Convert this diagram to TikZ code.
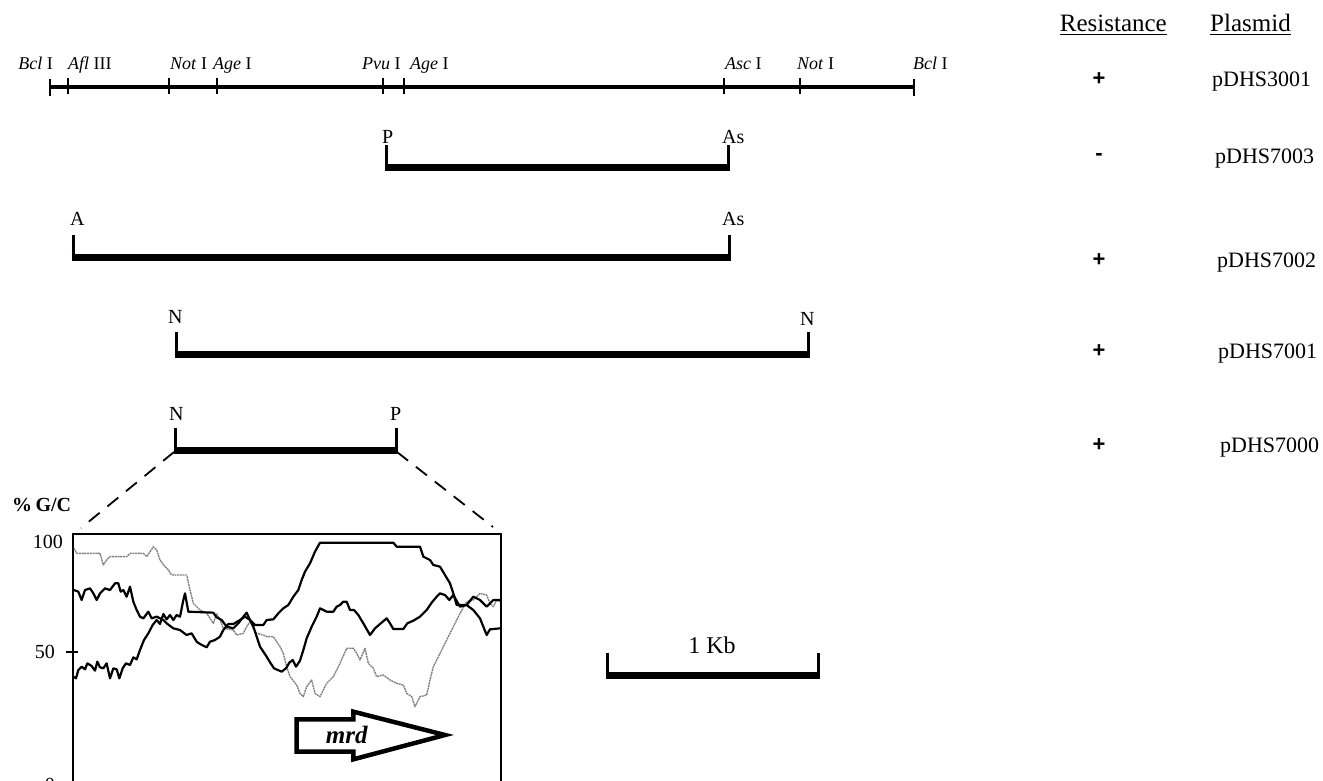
\documentclass[tikz,border=0pt]{standalone}
\usepackage{fontspec}
\setmainfont{Liberation Serif}
\newfontfamily\sansfnt{Liberation Sans}
\begin{document}
\begin{tikzpicture}[x=1pt,y=-1pt,
  toplab/.style={font=\fontsize{18}{20}\selectfont, inner sep=0pt, anchor=base west},
  fraglab/.style={font=\fontsize{20}{22}\selectfont, inner sep=0pt, anchor=base west},
  collab/.style={font=\fontsize{22}{24}\selectfont, inner sep=0pt, anchor=base west},
  headlab/.style={font=\fontsize{25}{27}\selectfont, inner sep=0pt},
  signlab/.style={font=\sansfnt\bfseries\fontsize{22}{24}\selectfont, inner sep=0pt, anchor=center},
  axlab/.style={font=\fontsize{20}{22}\selectfont, inner sep=0pt, anchor=east},
  mapline/.style={line width=4.5pt},
  fragbar/.style={line width=7pt},
  fragtick/.style={line width=3pt},
  maptick/.style={line width=1.6pt},
  gcsolid/.style={line width=2.2pt, line join=round},
  gcgray/.style={line width=1.4pt, black!50, line join=round, dash pattern=on 2pt off 0.7pt},
  zoomdash/.style={line width=1.8pt, dash pattern=on 14pt off 10pt},
]
\useasboundingbox (0,0) rectangle (1323,780);

% ---------------- restriction map ----------------
\coordinate (m0) at (50,87);
\coordinate (m1) at (68,87);
\coordinate (m2) at (169,87);
\coordinate (m3) at (217,87);
\coordinate (m4) at (383,87);
\coordinate (m5) at (404,87);
\coordinate (m6) at (724,87);
\coordinate (m7) at (800,87);
\coordinate (m8) at (914,87);
\draw[mapline] (m0) -- (m8);
\foreach \c in {m1,m2,m3,m4,m5,m6,m7}{
  \draw[maptick] ([yshift=9pt]\c) -- ([yshift=-7pt]\c);
}
\draw[maptick] ([yshift=8pt]m0) -- ([yshift=-9pt]m0);
\draw[maptick] ([yshift=8pt]m8) -- ([yshift=-9pt]m8);

\node[toplab, anchor=base east] (t0) at (53,69) {\textit{Bcl} I};
\node[toplab] (t1) at (68,69) {\textit{Afl} III};
\node[toplab] (t2) at (170,69) {\textit{Not} I};
\node[toplab] (t3) at (213,69) {\textit{Age} I};
\node[toplab] (t4) at (362,69) {\textit{Pvu} I};
\node[toplab] (t5) at (410,69) {\textit{Age} I};
\node[toplab] (t6) at (725,69) {\textit{Asc} I};
\node[toplab] (t7) at (797,69) {\textit{Not} I};
\node[toplab] (t8) at (913,69) {\textit{Bcl} I};

% ---------------- fragments ----------------
\coordinate (b2l) at (386,167); \coordinate (b2r) at (728,167);
\coordinate (b3l) at (73,257);  \coordinate (b3r) at (729,257);
\coordinate (b4l) at (176,354); \coordinate (b4r) at (808,354);
\coordinate (b5l) at (175,450); \coordinate (b5r) at (396,450);

\foreach \l/\r in {b2l/b2r,b3l/b3r,b4l/b4r,b5l/b5r}{
  \draw[fragbar] ([xshift=-1.5pt]\l) -- ([xshift=1.5pt]\r);
  \draw[fragtick] (\l) ++(0,3.5) -- ++(0,-26);
  \draw[fragtick] (\r) ++(0,3.5) -- ++(0,-26);
}

\node[fraglab] (f2a) at (382,143) {P};
\node[fraglab] (f2b) at (722,143) {As};
\node[fraglab] (f3a) at (70,225) {A};
\node[fraglab] (f3b) at (722,225) {As};
\node[fraglab] (f4a) at (168,323) {N};
\node[fraglab] (f4b) at (800,325) {N};
\node[fraglab] (f5a) at (169,420) {N};
\node[fraglab] (f5b) at (390,420) {P};

% ---------------- right columns ----------------
\node[headlab, anchor=base east] (hres) at (1167,31) {Resistance};
\node[headlab, anchor=base west] (hpla) at (1210,31) {Plasmid};
\draw[line width=1.4pt] ([yshift=-3.5pt]hres.base west) -- ([yshift=-3.5pt]hres.base east);
\draw[line width=1.4pt] ([yshift=-3.5pt]hpla.base west) -- ([yshift=-3.5pt]hpla.base east);

\node[signlab] (s1) at (1099,79) {+};
\node[signlab] (s2) at (1099,157) {-};
\node[signlab] (s3) at (1099,260) {+};
\node[signlab] (s4) at (1099,351) {+};
\node[signlab] (s5) at (1099,445) {+};

\node[collab] (p1) at (1212,86) {pDHS3001};
\node[collab] (p2) at (1215,163) {pDHS7003};
\node[collab] (p3) at (1217,267) {pDHS7002};
\node[collab] (p4) at (1218,358) {pDHS7001};
\node[collab] (p5) at (1220,452) {pDHS7000};

% ---------------- scale bar ----------------
\coordinate (sbl) at (607,675);
\coordinate (sbr) at (818,675);
\draw[fragbar] ([xshift=-1.5pt]sbl) -- ([xshift=1.5pt]sbr);
\draw[fragtick] (sbl) ++(0,3.5) -- ++(0,-26);
\draw[fragtick] (sbr) ++(0,3.5) -- ++(0,-26);
\node[font=\fontsize{24}{26}\selectfont, inner sep=0pt, anchor=base] (kb) at (712,653) {1 Kb};

% ---------------- GC plot ----------------
\coordinate (ptl) at (73,534);
\coordinate (ptr) at (501,534);
\coordinate (pbr) at (501,820);
\coordinate (dl) at (81,528);
\coordinate (dr) at (493,527);
\draw[zoomdash] (b5l) ++(-1,2) -- (dl);
\draw[zoomdash] (b5r) ++(1,2) -- (dr);
\draw[line width=1.5pt] (ptl) rectangle (pbr);
\draw[line width=1.5pt] (66,652) -- (78,652);
\node[axlab] (y100) at (63,542) {100};
\node[axlab] (y50) at (55,652) {50};
\node[axlab] (y0) at (55,785) {0};
\node[font=\bfseries\fontsize{20}{22}\selectfont, inner sep=0pt, anchor=west] (gc) at (12,505) {\%\,G/C};

\begin{scope}[shift={(0,420)}, scale=1/3]
\draw[gcgray] (222,385) -- (230,400) -- (300,400) -- (310,435) -- (320,420) -- (330,410) -- (380,410) -- (390,400) -- (430,400) -- (440,410) -- (460,380) -- (470,390) -- (480,420) -- (495,440) -- (505,450) -- (515,465) -- (560,465) -- (570,510) -- (580,550) -- (590,560) -- (600,570) -- (620,580) -- (640,610) -- (650,580) -- (660,600) -- (670,625) -- (700,630) -- (710,645) -- (730,640) -- (740,620) -- (750,605) -- (760,625) -- (770,640) -- (790,645) -- (800,650) -- (820,650) -- (840,680) -- (850,700) -- (860,740) -- (870,770) -- (890,795) -- (900,820) -- (910,830) -- (920,800) -- (935,780) -- (945,820) -- (960,830) -- (970,810) -- (980,790) -- (1000,770) -- (1020,730) -- (1040,685) -- (1060,685) -- (1070,700) -- (1080,720) -- (1095,685) -- (1105,730) -- (1120,745) -- (1130,770) -- (1150,765) -- (1170,780) -- (1190,790) -- (1210,795) -- (1220,820) -- (1235,830) -- (1245,860) -- (1260,830) -- (1280,825) -- (1290,780) -- (1300,740) -- (1320,700) -- (1340,660) -- (1360,620) -- (1380,580) -- (1400,545) -- (1420,540) -- (1440,520) -- (1460,525) -- (1470,550) -- (1480,560) -- (1490,540) -- (1500,545);
\draw[gcsolid] (222,770) -- (228,775) -- (235,750) -- (245,740) -- (255,748) -- (262,730) -- (275,738) -- (285,752) -- (292,725) -- (300,742) -- (310,745) -- (320,730) -- (330,775) -- (340,745) -- (350,748) -- (358,775) -- (368,745) -- (378,730) -- (390,735) -- (400,712) -- (410,718) -- (420,690) -- (432,660) -- (445,640) -- (458,615) -- (470,600) -- (480,612) -- (490,582) -- (500,598) -- (510,585) -- (520,600) -- (530,585) -- (540,590) -- (550,540) -- (555,520) -- (565,575) -- (640,578) -- (650,592) -- (665,600) -- (680,620) -- (700,625) -- (715,610) -- (730,590) -- (740,578) -- (750,600) -- (765,615) -- (790,615) -- (800,600) -- (820,598) -- (835,580) -- (850,565) -- (865,555) -- (880,530) -- (895,510) -- (905,480) -- (915,455) -- (930,430) -- (945,395) -- (960,368) -- (1180,368) -- (1190,380) -- (1260,380) -- (1270,410) -- (1290,420) -- (1300,435) -- (1320,440) -- (1335,465) -- (1350,490) -- (1360,520) -- (1370,555) -- (1400,555) -- (1420,570) -- (1440,595) -- (1460,645) -- (1470,628) -- (1500,625);
\draw[gcsolid] (222,510) -- (235,515) -- (245,540) -- (255,510) -- (270,505) -- (280,520) -- (290,540) -- (300,520) -- (315,505) -- (330,510) -- (345,490) -- (355,490) -- (362,515) -- (370,510) -- (380,530) -- (390,500) -- (400,545) -- (410,570) -- (420,590) -- (430,595) -- (445,575) -- (455,595) -- (470,590) -- (490,600) -- (500,610) -- (520,625) -- (540,630) -- (560,645) -- (575,640) -- (590,665) -- (600,672) -- (620,682) -- (630,665) -- (645,660) -- (660,650) -- (670,630) -- (685,612) -- (700,612) -- (720,600) -- (735,590) -- (750,600) -- (760,620) -- (770,650) -- (780,680) -- (800,710) -- (812,730) -- (822,745) -- (845,755) -- (858,745) -- (868,728) -- (878,720) -- (888,740) -- (900,722) -- (910,690) -- (920,655) -- (935,620) -- (950,590) -- (960,565) -- (980,575) -- (1000,575) -- (1010,560) -- (1020,555) -- (1030,545) -- (1040,545) -- (1050,570) -- (1062,570) -- (1075,585) -- (1090,610) -- (1110,645) -- (1125,625) -- (1140,612) -- (1160,595) -- (1170,610) -- (1180,627) -- (1210,627) -- (1222,610) -- (1240,602) -- (1260,590) -- (1280,570) -- (1295,548) -- (1310,530) -- (1320,520) -- (1335,525) -- (1348,540) -- (1360,525) -- (1380,560) -- (1400,555) -- (1420,530) -- (1440,540) -- (1460,560) -- (1480,540) -- (1500,540);
% mrd arrow
\draw[line width=4.5pt, line join=miter, fill=white] (890,898) -- (1060,898) -- (1060,875) -- (1335,945) -- (1060,1018) -- (1060,995) -- (890,995) -- cycle;
\node[font=\bfseries\itshape\fontsize{25}{27}\selectfont, inner sep=0pt] (mrd) at (1040,945) {mrd};
\end{scope}
\end{tikzpicture}
\end{document}
